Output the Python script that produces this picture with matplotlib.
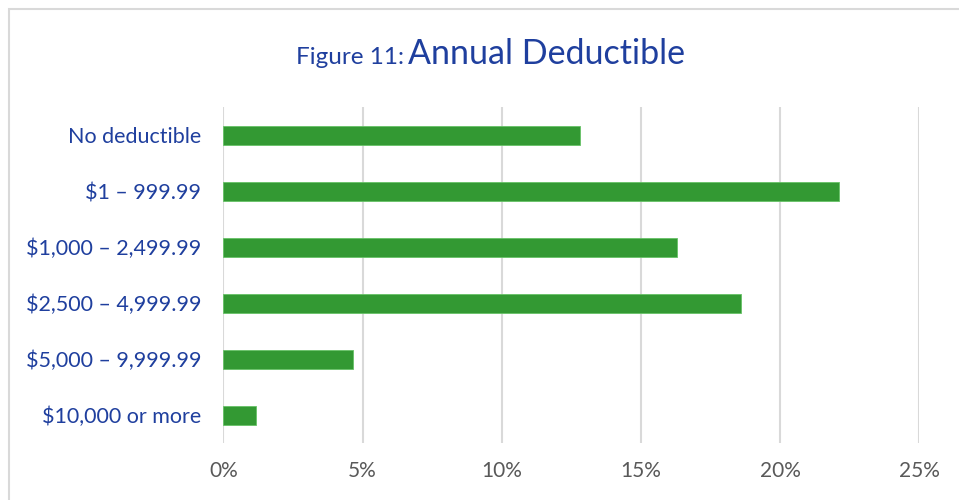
import matplotlib.pyplot as plt
from matplotlib.patches import Rectangle
from matplotlib.ticker import PercentFormatter

# ── data ─────────────────────────────────────────────
categories = ["No deductible", "$1 – 999.99", "$1,000 – 2,499.99",
              "$2,500 – 4,999.99", "$5,000 – 9,999.99", "$10,000 or more"]
shares = [12.8, 22.1, 16.3, 18.6, 4.65, 1.16]
x_ticks = [0, 5, 10, 15, 20, 25]

BLUE = "#1F3F9E"
GREEN = "#339933"
GRID = "#D9D9D9"

plt.rcParams["font.family"] = ["Lato", "DejaVu Sans"]

fig = plt.figure(figsize=(9.59, 5.0), dpi=100)
ax = fig.add_axes([0.2329, 0.1134, 0.7257, 0.672])

y = list(range(len(categories)))
ax.barh(y, shares, height=0.345, color=GREEN, edgecolor="#66C266", linewidth=0.6,
        zorder=3)
ax.set_yticks(y)
ax.set_yticklabels(categories)
ax.set_ylim(len(categories) - 0.5, -0.5)

ax.set_xlim(0, 25)
ax.set_xticks(x_ticks)
ax.xaxis.set_major_formatter(PercentFormatter(decimals=0))
ax.grid(axis="x", color=GRID, linewidth=1.5, zorder=0)

for s in ax.spines.values():
    s.set_visible(False)
ax.tick_params(axis="y", length=0, pad=16, labelsize=15.5, labelcolor=BLUE)
ax.tick_params(axis="x", length=0, pad=13, labelsize=15, labelcolor="#595959")

# title in two sizes
fig.text(404 / 959, 1 - 64 / 500, "Figure 11:", fontsize=17.5, color=BLUE,
         ha="right", va="baseline")
fig.text(408 / 959, 1 - 64 / 500, "Annual Deductible", fontsize=24.5, color=BLUE,
         ha="left", va="baseline")

# light chart-area border (right/bottom run off the canvas)
fig.add_artist(Rectangle((9 / 959, -0.1), 1.2, 1 - 9 / 500 + 0.1,
                         transform=fig.transFigure, fill=False,
                         edgecolor="#D9D9D9", linewidth=1.5))

fig.savefig("out.png", dpi=100)
